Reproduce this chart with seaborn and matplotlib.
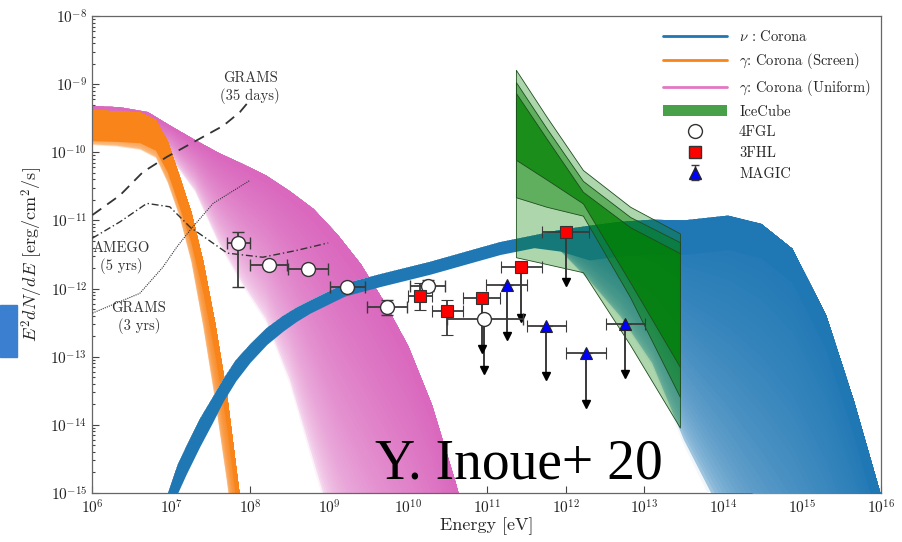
import numpy as np
import matplotlib
matplotlib.use("Agg")
import matplotlib.pyplot as plt
import matplotlib.colors as mcolors
import matplotlib.ticker as mticker
import seaborn as sns
from matplotlib.lines import Line2D
from matplotlib.patches import Patch, Rectangle

# =============================================================================
# Data (log10 values)
# =============================================================================

# gamma: Corona (Screen) band
screen_logE = [6.0, 6.3, 6.6, 6.8, 6.95, 7.1, 7.25, 7.4, 7.55, 7.7, 7.85, 7.95]
screen_hi = [-9.38, -9.39, -9.41, -9.52, -9.84, -10.35, -10.88, -11.6, -12.5, -13.55, -14.92, -15.8]
screen_lo = [-9.89, -9.91, -9.96, -10.08, -10.45, -10.95, -11.62, -12.57, -13.65, -14.85, -16.2, -17.0]

# gamma: Corona (Uniform) band
uniform_logE = [6.0, 6.35, 6.7, 7.0, 7.3, 7.6, 7.9, 8.2, 8.5, 8.8, 9.1, 9.4, 9.7, 10.0, 10.3, 10.6, 10.8]
uniform_hi = [-9.32, -9.34, -9.41, -9.62, -9.82, -10.01, -10.17, -10.34, -10.57, -10.83,
              -11.2, -11.64, -12.2, -12.84, -13.7, -14.84, -15.7]
uniform_lo = [-9.82, -9.88, -9.96, -10.1, -10.58, -11.35, -11.96, -12.5, -13.4, -14.6,
              -15.8, -16.7, -17.5, -18.2, -18.9, -19.6, -20.0]

# nu: Corona band
nu_logE = [6.96, 7.08, 7.19, 7.36, 7.52, 7.66, 7.82, 8.0, 8.21, 8.42, 8.59, 8.76, 9.2, 9.65,
           10.28, 10.8, 11.17, 11.6, 11.93, 12.3, 12.7, 13.1, 13.5, 14.06, 14.48, 14.87,
           15.3, 15.65, 16.0]
nu_hi = [-15.0, -14.59, -14.32, -13.92, -13.61, -13.33, -13.05, -12.82, -12.58, -12.40,
         -12.28, -12.18, -11.93, -11.79, -11.61, -11.44, -11.32, -11.22, -11.14, -11.08,
         -11.02, -10.99, -11.0, -10.93, -11.05, -11.41, -12.39, -13.64, -15.05]
nu_lo = [-15.5, -15.0, -14.72, -14.32, -13.97, -13.65, -13.35, -13.08, -12.82, -12.62,
         -12.48, -12.36, -12.11, -11.97, -11.79, -11.62, -11.5, -11.4, -11.45, -11.9,
         -12.45, -13.15, -14.3, -15.6, -16.6, -17.5, -18.5, -19.3, -20.0]

# IceCube contours
ice_logE = [11.37, 11.76, 12.22, 12.82, 13.45]
ice_outer_hi = [-8.79, -9.48, -10.26, -10.80, -11.19]
ice_outer_lo = [-11.54, -11.64, -11.76, -12.83, -14.04]
ice_mid_hi = [-8.97, -9.65, -10.42, -10.95, -11.32]
ice_mid_lo = [-10.66, -10.80, -10.93, -12.13, -13.59]
ice_inner_hi = [-9.13, -9.80, -10.58, -11.10, -11.48]
ice_inner_lo = [-10.11, -10.40, -10.75, -11.91, -13.15]

# sensitivity curves
grams35_logE = [6.0, 6.35, 6.64, 6.94, 7.33, 7.66, 7.87, 8.0]
grams35_logF = [-10.92, -10.63, -10.29, -10.07, -9.82, -9.61, -9.41, -9.23]
amego_logE = [6.0, 6.35, 6.69, 6.98, 7.24, 7.71, 8.16, 8.59, 8.99]
amego_logF = [-11.26, -11.02, -10.75, -10.80, -11.10, -11.48, -11.54, -11.44, -11.33]
grams3_logE = [6.0, 6.60, 6.89, 7.07, 7.24, 7.53, 8.0]
grams3_logF = [-12.36, -12.07, -11.69, -11.39, -11.14, -10.75, -10.41]

# 4FGL
fgl_logE = [7.85, 8.24, 8.73, 9.23, 9.73, 10.25, 10.96]
fgl_logE_lo = [7.71, 8.0, 8.48, 9.01, 9.48, 10.03, 10.50]
fgl_logE_hi = [8.0, 8.47, 8.99, 9.46, 9.99, 10.47, 11.46]
fgl_logF = [-11.33, -11.66, -11.72, -11.98, -12.27, -11.96, -12.45]
fgl_logF_lo = [-11.98, -11.66, -11.72, -11.98, -12.39, -12.04, -12.45]
fgl_logF_hi = [-11.17, -11.66, -11.72, -11.98, -12.17, -11.88, -12.45]
fgl_ul = [False, False, False, False, False, False, True]

# 3FHL
fhl_logE = [10.15, 10.50, 10.94, 11.43, 12.0]
fhl_logE_lo = [10.0, 10.31, 10.70, 11.18, 11.70]
fhl_logE_hi = [10.31, 10.70, 11.17, 11.70, 12.30]
fhl_logF = [-12.11, -12.33, -12.14, -11.69, -11.17]
fhl_logF_lo = [-12.32, -12.68, -12.14, -11.69, -11.17]
fhl_logF_hi = [-11.92, -12.17, -12.14, -11.69, -11.17]
fhl_ul = [False, False, True, True, True]

# MAGIC (all upper limits)
magic_logE = [11.26, 11.75, 12.26, 12.75]
magic_logE_lo = [10.99, 11.51, 12.0, 12.51]
magic_logE_hi = [11.51, 12.0, 12.51, 13.01]
magic_logF = [-11.95, -12.55, -12.95, -12.52]
magic_ul = [True, True, True, True]

x_decades = list(range(6, 17))
y_decades = list(range(-15, -7))

UL_DROP = 10 ** -0.74   # arrow length of upper limits

C_BLUE = "#1f77b4"
C_ORANGE = "#f8841a"
C_PINK = "#d966bd"
C_GREEN = "#008000"
C_BAR = "#3a3a3a"


# =============================================================================
# Helpers
# =============================================================================

def shaded_band(ax, log_e, log_lo, log_hi, color, gamma, n=40, light=0.06, core=0.0, zorder=1):
    """Band between lo and hi, shaded from pale (lo side) to full colour (hi side)."""
    e = 10.0 ** np.asarray(log_e)
    lo = np.asarray(log_lo)
    hi = np.asarray(log_hi)
    base = np.array(mcolors.to_rgb(color))
    for k in range(n):
        frac = k / n
        w = light + (1 - light) * frac ** gamma
        c = 1 - w * (1 - base)
        edge = lo + (hi - lo) * frac
        ax.fill_between(e, 10 ** edge, 10 ** hi, color=c, lw=0, zorder=zorder)
    if core > 0:
        # solid strip just under the upper edge
        ax.fill_between(e, 10 ** np.maximum(lo, hi - core), 10 ** hi, color=color, lw=0,
                        zorder=zorder)


def plot_points(ax, log_e, log_elo, log_ehi, log_f, log_flo, log_fhi, ul, **style):
    e = 10.0 ** np.asarray(log_e)
    f = 10.0 ** np.asarray(log_f)
    xerr = [e - 10.0 ** np.asarray(log_elo), 10.0 ** np.asarray(log_ehi) - e]
    yerr = [f - 10.0 ** np.asarray(log_flo), 10.0 ** np.asarray(log_fhi) - f]
    ul = np.asarray(ul)
    if ul.any():
        ax.errorbar(e[ul], f[ul], yerr=[f[ul] * (1 - UL_DROP), 0 * f[ul]], fmt="none",
                    ecolor=C_BAR, elinewidth=1.4, zorder=5)
        ax.plot(e[ul], f[ul] * UL_DROP, ls="none", marker="v", color="black", ms=6, zorder=5)
    ax.errorbar(e, f, xerr=xerr, yerr=yerr, ecolor=C_BAR, elinewidth=1.3,
                capsize=4, capthick=1.2, ls="none", zorder=6, **style)


# =============================================================================
# Figure
# =============================================================================

sns.set_style("ticks")
plt.rcParams["font.family"] = ["cmr10"]
plt.rcParams["mathtext.fontset"] = "cm"
plt.rcParams["axes.formatter.use_mathtext"] = True

fig = plt.figure(figsize=(9.03, 5.42), dpi=100)
ax = fig.add_axes([0.1024, 0.0904, 0.8732, 0.8801])
ax.set_xscale("log")
ax.set_yscale("log")

# model bands
shaded_band(ax, uniform_logE, uniform_lo, uniform_hi, C_PINK, gamma=0.45, light=0.08, zorder=1)
shaded_band(ax, screen_logE, screen_lo, screen_hi, C_ORANGE, gamma=0.25, light=0.2,
            core=0.45, zorder=2)
shaded_band(ax, nu_logE, nu_lo, nu_hi, C_BLUE, gamma=0.25, light=0.06, core=0.5, zorder=3)

# IceCube contours
ice_e = 10.0 ** np.asarray(ice_logE)
for lo, hi, a in [(ice_outer_lo, ice_outer_hi, 0.32),
                  (ice_mid_lo, ice_mid_hi, 0.45),
                  (ice_inner_lo, ice_inner_hi, 0.72)]:
    ax.fill_between(ice_e, 10.0 ** np.asarray(lo), 10.0 ** np.asarray(hi),
                    facecolor=mcolors.to_rgba(C_GREEN, a), edgecolor="#1d4d1d",
                    lw=0.6, zorder=4)

# sensitivity curves
sns.lineplot(x=10.0 ** np.asarray(grams35_logE), y=10.0 ** np.asarray(grams35_logF), ax=ax,
             color="#333333", lw=1.3, linestyle=(0, (6, 4)), sort=False, zorder=4)
sns.lineplot(x=10.0 ** np.asarray(amego_logE), y=10.0 ** np.asarray(amego_logF), ax=ax,
             color="#333333", lw=1.0, linestyle=(0, (5, 2, 1, 2)), sort=False, zorder=4)
sns.lineplot(x=10.0 ** np.asarray(grams3_logE), y=10.0 ** np.asarray(grams3_logF), ax=ax,
             color="#333333", lw=0.8, linestyle=(0, (1, 1)), sort=False, zorder=4)

# data points
plot_points(ax, fgl_logE, fgl_logE_lo, fgl_logE_hi, fgl_logF, fgl_logF_lo, fgl_logF_hi, fgl_ul,
            marker="o", mfc="white", mec="#333333", mew=1.0, ms=10)
plot_points(ax, fhl_logE, fhl_logE_lo, fhl_logE_hi, fhl_logF, fhl_logF_lo, fhl_logF_hi, fhl_ul,
            marker="s", mfc="red", mec="#333333", mew=0.8, ms=9)
plot_points(ax, magic_logE, magic_logE_lo, magic_logE_hi, magic_logF, magic_logF, magic_logF,
            magic_ul, marker="^", mfc="blue", mec="#222222", mew=0.8, ms=9)

# labels of sensitivity curves
txt = dict(transform=ax.transAxes, ha="center", va="center", fontsize=10.5,
           color="#333333", linespacing=1.25, zorder=7)
ax.text(0.200, 0.849, "GRAMS\n(35 days)", **txt)
ax.text(0.037, 0.493, "AMEGO\n(5 yrs)", **txt)
ax.text(0.059, 0.367, "GRAMS\n(3 yrs)", **txt)

ax.text(0.358, 0.031, "Y. Inoue+ 20", transform=ax.transAxes, fontsize=40,
        family="Liberation Serif", color="black", va="baseline", zorder=8)

# axes
ax.set_xlim(1e6, 1e16)
ax.set_ylim(1e-15, 1e-8)
ax.xaxis.set_major_locator(mticker.FixedLocator([10.0 ** d for d in x_decades]))
ax.xaxis.set_minor_locator(mticker.NullLocator())
ax.yaxis.set_major_locator(mticker.FixedLocator([10.0 ** d for d in y_decades]))
ax.yaxis.set_minor_locator(mticker.FixedLocator(
    [m * 10.0 ** d for d in y_decades[:-1] for m in range(2, 10)]))
ax.xaxis.set_major_formatter(mticker.LogFormatterSciNotation())
ax.yaxis.set_major_formatter(mticker.LogFormatterSciNotation())
ax.yaxis.set_minor_formatter(mticker.NullFormatter())
ax.tick_params(which="both", direction="in", colors="#444444", labelcolor="#222222",
               labelsize=11, width=0.8)
ax.tick_params(which="major", length=5, pad=4)
ax.tick_params(which="minor", length=2.5)
for sp in ax.spines.values():
    sp.set_color("#666666")
    sp.set_linewidth(0.9)

ax.set_xlabel("Energy [eV]", fontsize=13)
ax.set_ylabel(r"$E^2dN/dE$ [erg/cm$^2$/s]", fontsize=13)
ax.xaxis.set_label_coords(0.5, -0.05)
ax.yaxis.set_label_coords(-0.06, 0.5)

# legend
magic_handle = ax.errorbar([np.nan], [np.nan], yerr=[[1.0], [1.0]], fmt="^", mfc="blue",
                           mec="#222222", ms=9, ecolor=C_BAR, capsize=3, elinewidth=1)
handles = [
    Line2D([], [], color=C_BLUE, lw=2),
    Line2D([], [], color=C_ORANGE, lw=2),
    Line2D([], [], color="#e377c2", lw=2),
    Patch(facecolor="#48a048", edgecolor="none"),
    Line2D([], [], ls="none", marker="o", mfc="white", mec="#333333", ms=10),
    Line2D([], [], ls="none", marker="s", mfc="red", mec="#333333", ms=9),
    magic_handle,
]
labels = [r"$\nu$ : Corona", r"$\gamma$: Corona (Screen)", r"$\gamma$: Corona (Uniform)",
          "IceCube", "4FGL", "3FHL", "MAGIC"]
ax.legend(handles, labels, loc="upper right", bbox_to_anchor=(0.995, 0.985), frameon=False,
          fontsize=10.5, handlelength=4.4, handletextpad=0.8, labelspacing=0.48,
          borderaxespad=0)

# blue tab at the left edge of the slide
fig.add_artist(Rectangle((0, 0.341), 0.0188, 0.096, transform=fig.transFigure,
                         color="#3a7fd0", zorder=0))

fig.savefig("out.png", dpi=100)
